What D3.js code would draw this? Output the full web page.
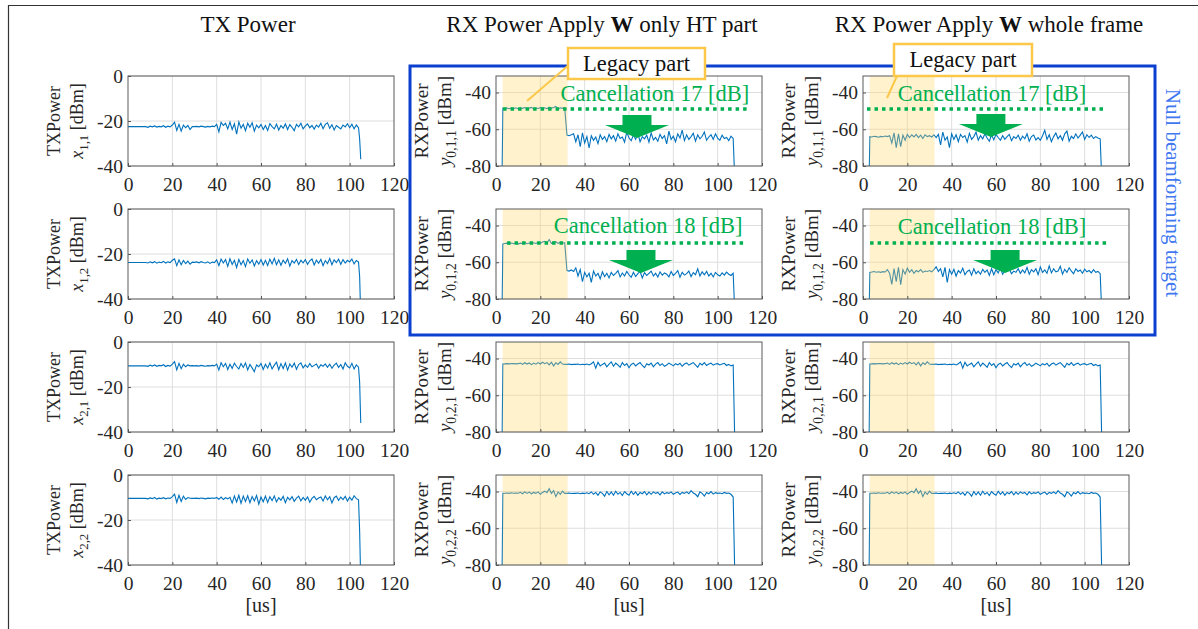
<!DOCTYPE html>
<html>
<head>
<meta charset="utf-8">
<script src="https://cdn.jsdelivr.net/npm/d3@7"></script>
<style>
  body { margin: 0; background: #fff; }
  svg { display: block; }
  text { font-family: "Liberation Serif", "Times New Roman", serif; }
</style>
</head>
<body>
<svg id="chart" width="1198" height="629"></svg>
<script>
/* ---------------------------------------------------------------*/
// sample times [us]
var txTimes = d3.range(0, 105).concat([104.5, 105]);
var rxTimes = [2.7, 3.1].concat(d3.range(4, 108)).concat([107.8]);

// TX power [dBm]
var tx11 = [-22.5,-22.5,-22.5,-22.5,-22.5,-22.5,-22.5,-22.5,-22.5,
  -22.8,-22.3,-22.6,-22.2,-22.7,-22.4,-22.6,-22.1,-22.8,-22.3,-22.6,
  -21.8,-20.5,-24.2,-21.5,-24.5,-21.8,-23.0,-22.0,-23.8,-22.5,
  -22.5,-22.4,-22.6,-22.3,-22.5,-22.7,-22.4,-22.6,-22.3,-22.5,
  -21.5,-24.8,-20.6,-22.0,-21.0,-23.5,-20.5,-23.8,-21.2,-25.8,
  -20.4,-23.2,-21.5,-24.3,-21.0,-22.8,-20.8,-24.5,-21.8,-23.0,
  -21.5,-23.8,-22.0,-24.2,-21.2,-22.5,-23.5,-21.4,-24.0,-22.0,
  -23.2,-21.3,-23.8,-21.6,-22.8,-24.3,-21.5,-22.6,-21.0,-23.5,
  -22.2,-21.3,-23.0,-22.0,-23.6,-21.8,-22.7,-21.0,-23.4,-21.5,
  -20.8,-23.2,-21.6,-24.0,-22.0,-22.8,-23.5,-21.8,-22.6,-21.2,
  -23.0,-21.4,-23.5,-21.8,-23.0, -28, -37];
var tx12 = [-23.8,-23.8,-23.8,-23.8,-23.8,-23.8,-23.8,-23.8,-23.8,
  -24.0,-23.5,-23.9,-23.4,-24.1,-23.6,-23.9,-23.3,-24.0,-23.5,-23.8,
  -22.8,-22.2,-25.2,-22.6,-24.8,-22.9,-24.3,-23.2,-24.5,-23.6,
  -23.7,-23.5,-23.9,-23.4,-23.8,-24.0,-23.5,-24.2,-23.6,-23.8,
  -22.6,-25.2,-22.3,-24.0,-22.5,-25.5,-22.1,-24.6,-22.8,-26.0,
  -22.4,-24.8,-22.9,-25.6,-22.2,-24.1,-22.6,-25.3,-23.0,-24.5,
  -22.5,-24.9,-22.8,-25.1,-22.3,-24.4,-21.9,-24.8,-22.6,-25.0,
  -22.7,-24.2,-22.1,-25.4,-22.9,-24.0,-22.4,-24.7,-22.8,-23.9,
  -22.5,-24.6,-23.0,-22.2,-24.9,-22.7,-24.1,-22.4,-25.2,-22.9,
  -24.3,-22.0,-24.8,-22.6,-23.8,-22.3,-24.6,-22.5,-24.0,-22.8,
  -23.5,-22.2,-24.4,-22.9,-23.6, -30, -48];
var tx21 = [-10.6,-10.6,-10.6,-10.6,-10.6,-10.6,-10.6,-10.6,-10.6,
  -10.8,-10.3,-10.7,-10.2,-10.8,-10.4,-10.6,-10.1,-10.9,-10.4,-10.7,
  -9.8,-8.7,-12.4,-9.5,-11.9,-9.9,-11.0,-10.2,-10.6,-10.5,
  -10.6,-10.5,-10.7,-10.4,-10.6,-10.8,-10.5,-10.6,-10.4,-10.6,
  -9.8,-12.5,-9.2,-11.0,-9.5,-12.2,-9.9,-11.8,-9.4,-10.9,
  -12.0,-9.6,-11.3,-9.3,-12.4,-10.0,-11.5,-13.2,-10.2,-11.0,
  -9.5,-12.2,-9.9,-11.6,-9.2,-12.0,-10.3,-9.0,-12.3,-9.6,
  -11.8,-9.3,-12.5,-9.8,-11.2,-9.4,-12.1,-10.0,-9.3,-11.5,
  -10.2,-11.3,-9.6,-11.0,-10.4,-9.8,-11.6,-10.1,-10.8,-9.7,
  -11.2,-9.9,-11.7,-10.3,-9.4,-11.3,-10.0,-12.0,-9.2,-10.8,
  -11.5,-9.5,-12.0,-10.2,-11.2, -18, -36];
var tx22 = [-10.4,-10.4,-10.4,-10.4,-10.4,-10.4,-10.4,-10.4,-10.4,
  -10.6,-10.2,-10.5,-10.0,-10.7,-10.3,-10.5,-10.1,-10.6,-10.2,-10.4,
  -9.6,-8.5,-12.2,-9.0,-11.8,-9.4,-10.9,-10.0,-10.3,-10.4,
  -10.4,-10.3,-10.5,-10.2,-10.4,-10.6,-10.3,-10.4,-10.2,-10.4,
  -10.0,-10.8,-9.8,-10.9,-10.1,-10.6,-9.9,-12.5,-9.3,-12.0,
  -9.0,-12.6,-9.4,-11.8,-9.2,-12.3,-9.6,-11.5,-9.1,-13.0,
  -9.8,-11.9,-9.4,-12.2,-9.7,-11.4,-9.3,-12.0,-10.1,-11.2,
  -9.5,-12.3,-9.9,-11.0,-9.6,-11.7,-10.3,-9.4,-11.5,-10.0,
  -11.2,-9.7,-12.1,-10.4,-9.5,-11.0,-10.2,-9.8,-11.6,-9.3,
  -11.0,-9.6,-12.4,-10.1,-9.4,-11.3,-9.8,-10.9,-9.5,-11.6,
  -9.9,-11.2,-9.2,-10.5,-11.0, -25, -48];

// RX power, W applied only to HT part [dBm]
var rxHt011 = [-90, -48.5,
  -48.6,-48.4,-48.8,-48.5,-48.7,-48.3,-48.9,-48.4,-48.6,
  -48.2,-48.8,-48.5,-48.1,-48.9,-48.4,-48.7,-48.2,-48.6,-48.3,
  -48.8,-47.9,-48.5,-48.2,-47.6,-48.9,-48.3,-48.6,-48.4,
  -63.2,-63.5,-63.0,-62.5,-66.8,-63.0,-69.5,-62.0,-67.5,-64.0,
  -70.2,-63.5,-66.0,-64.2,-67.8,-63.0,-65.5,-64.0,-66.8,-62.8,
  -65.2,-63.5,-66.5,-62.5,-65.0,-64.2,-67.0,-61.5,-64.8,-66.2,
  -63.0,-65.5,-62.2,-66.8,-64.0,-65.2,-63.2,-67.0,-62.0,-65.8,
  -64.5,-66.5,-62.8,-65.0,-63.5,-68.0,-61.0,-65.5,-63.8,-66.8,
  -62.5,-64.8,-60.5,-66.2,-63.0,-65.5,-64.0,-62.2,-66.5,-63.0,
  -65.2,-63.8,-61.5,-66.0,-64.2,-63.0,-65.5,-62.5,-64.8,-66.0,
  -63.2,-65.0,-64.5,-66.2,-63.8,-65.0, -90];
var rxHt012 = [-90, -50.0,
  -49.8,-49.6,-50.0,-49.5,-49.9,-49.4,-50.1,-49.6,-49.8,
  -49.3,-49.9,-49.5,-50.0,-49.4,-49.8,-49.2,-49.7,-49.0,-48.6,
  -49.5,-47.6,-49.8,-49.0,-48.8,-49.7,-49.2,-49.5,-49.4,
  -64.5,-64.8,-64.2,-65.0,-63.0,-67.5,-64.0,-70.5,-65.5,-68.0,
  -66.0,-71.0,-64.8,-67.5,-66.0,-69.0,-65.2,-67.8,-66.0,-68.5,
  -65.5,-67.2,-66.0,-64.5,-68.0,-65.8,-67.5,-65.0,-66.8,-68.2,
  -65.5,-67.8,-66.2,-65.0,-68.5,-65.6,-67.2,-66.0,-64.8,-67.5,
  -66.0,-68.0,-65.2,-67.0,-65.8,-66.5,-68.0,-65.0,-67.2,-66.0,
  -64.5,-68.2,-65.5,-67.0,-66.2,-64.8,-67.8,-65.6,-66.8,-63.5,
  -67.5,-65.2,-66.8,-65.0,-67.5,-66.0,-68.0,-65.5,-66.8,-67.5,
  -65.8,-67.0,-65.4,-66.5,-67.2,-66.0, -90];

// RX power, W applied to whole frame [dBm]
var rxAll011 = [-90, -64.0,
  -64.2,-63.8,-64.0,-64.3,-63.9,-64.1,-63.7,-64.0,-63.5,
  -67.5,-62.0,-70.0,-62.5,-69.5,-63.2,-66.0,-62.8,-64.5,-63.0,
  -64.2,-62.8,-64.5,-63.2,-65.0,-63.0,-64.0,-63.5,-64.2,
  -63.0,-64.5,-62.8,-68.5,-61.5,-66.0,-64.2,-70.0,-62.5,-65.5,
  -63.0,-66.8,-62.8,-64.5,-63.5,-67.0,-62.2,-65.5,-64.0,-61.5,
  -66.0,-63.5,-65.2,-62.5,-64.8,-66.5,-63.0,-65.8,-62.8,-64.5,
  -66.0,-63.5,-65.5,-64.0,-62.8,-66.2,-64.0,-65.0,-63.2,-66.0,
  -63.8,-65.2,-62.5,-66.5,-64.0,-63.2,-65.8,-64.5,-66.0,-63.5,
  -60.5,-65.5,-63.0,-66.8,-64.0,-62.0,-65.2,-63.5,-66.0,-62.5,
  -61.0,-66.5,-63.8,-65.0,-62.5,-64.8,-63.2,-61.5,-65.5,-63.0,
  -64.5,-63.2,-65.0,-64.0,-64.8,-65.2, -90];
var rxAll012 = [-90, -65.5,
  -65.3,-65.0,-65.4,-65.2,-65.5,-65.1,-65.3,-64.0,-66.0,
  -72.0,-63.5,-70.5,-62.8,-72.2,-64.0,-66.5,-63.2,-65.5,-64.0,
  -66.0,-64.5,-65.2,-64.0,-65.5,-64.8,-65.0,-64.5,-65.2,
  -64.0,-62.5,-65.0,-63.5,-68.0,-62.8,-71.0,-64.0,-66.5,-63.8,
  -67.5,-64.5,-65.8,-63.2,-66.8,-65.0,-64.2,-67.0,-63.5,-66.2,
  -64.8,-66.5,-63.8,-65.5,-64.2,-67.2,-63.5,-66.8,-64.0,-65.8,
  -63.2,-66.5,-64.5,-65.0,-63.8,-66.2,-64.8,-65.5,-63.5,-66.0,
  -64.2,-65.8,-62.8,-66.5,-64.0,-65.2,-63.5,-66.8,-62.5,-65.5,
  -64.2,-66.0,-62.0,-65.8,-63.5,-65.2,-64.8,-62.2,-66.5,-63.8,
  -65.5,-63.0,-64.8,-66.2,-63.5,-65.0,-64.2,-66.0,-63.8,-65.2,
  -64.5,-65.8,-64.0,-65.5,-65.0,-66.2, -90];

// RX power at user 2 (same in both cases) [dBm]
var rx021 = [-90, -43.0,
  -42.9,-42.8,-42.9,-42.7,-42.8,-42.9,-42.8,-42.5,-43.2,
  -42.3,-43.0,-42.4,-43.3,-42.5,-43.1,-42.2,-43.0,-42.0,-42.8,
  -42.2,-43.5,-42.0,-44.0,-42.3,-43.2,-41.8,-43.0,-43.2,
  -43.2,-43.0,-43.3,-43.1,-43.2,-43.0,-43.4,-43.1,-43.3,-43.0,
  -43.5,-42.8,-41.8,-45.2,-42.0,-44.0,-43.2,-42.5,-44.5,-43.0,
  -41.8,-44.2,-42.5,-43.5,-44.8,-42.2,-43.8,-42.8,-45.0,-43.2,
  -42.5,-44.0,-43.0,-42.2,-43.8,-45.0,-42.8,-43.5,-42.5,-44.5,
  -43.0,-42.2,-43.8,-42.8,-44.2,-43.5,-42.5,-43.2,-44.0,-42.8,
  -43.5,-42.6,-44.2,-43.0,-42.4,-43.6,-42.8,-42.2,-43.4,-44.8,
  -42.6,-43.5,-42.2,-43.8,-43.0,-42.5,-43.6,-43.0,-42.8,-43.5,
  -43.0,-42.6,-43.8,-43.2,-44.0,-43.5, -90];
var rx022 = [-90, -41.0,
  -40.9,-40.8,-41.0,-40.7,-40.9,-40.8,-40.9,-40.4,-41.2,
  -40.2,-41.0,-40.3,-41.2,-40.5,-41.0,-40.2,-41.5,-40.5,-39.8,
  -40.6,-38.5,-41.0,-39.5,-42.8,-40.2,-41.5,-39.8,-41.0,
  -41.0,-40.8,-41.1,-40.9,-41.0,-40.8,-41.2,-40.9,-41.1,-40.7,
  -41.2,-40.2,-41.5,-40.5,-42.0,-40.2,-41.0,-42.5,-40.0,-41.8,
  -40.2,-42.0,-39.8,-41.5,-40.5,-42.2,-40.0,-41.2,-42.0,-39.8,
  -41.5,-40.2,-42.0,-40.5,-41.2,-40.0,-41.8,-40.3,-41.5,-40.2,
  -41.0,-40.5,-41.8,-40.2,-41.3,-40.6,-41.0,-40.2,-41.5,-40.8,
  -40.3,-41.6,-40.5,-41.0,-40.2,-41.2,-39.5,-40.8,-41.5,-42.8,
  -40.2,-41.0,-42.5,-40.5,-41.2,-40.0,-41.4,-40.6,-41.0,-40.8,
  -41.2,-40.5,-41.0,-40.8,-41.5,-43.0, -90];

var xTicks = [0, 20, 40, 60, 80, 100, 120];
var txTicks = [0, -20, -40];
var rxTicks = [-40, -60, -80];
var legacySpan = [3, 32.3];
var cancelDb = [17, 18];
var cancelLevel = [-49.0, -49.5];
var colTitles = [["TX Power"], ["RX Power Apply ", "W", " only HT part"], ["RX Power Apply ", "W", " whole frame"]];

/* ---------------------------------------------------------------*/
var colLeft = [128, 496, 863], plotW = 266;
var rowTop = [76, 209, 342, 475], plotH = 90;
var titleX = [248, 602, 989];

var panels = [
  {col: 0, row: 0, t: txTimes, v: tx11, name: "TXPower", sym: "x", sub: "1,1"},
  {col: 0, row: 1, t: txTimes, v: tx12, name: "TXPower", sym: "x", sub: "1,2"},
  {col: 0, row: 2, t: txTimes, v: tx21, name: "TXPower", sym: "x", sub: "2,1"},
  {col: 0, row: 3, t: txTimes, v: tx22, name: "TXPower", sym: "x", sub: "2,2"},
  {col: 1, row: 0, t: rxTimes, v: rxHt011, name: "RXPower", sym: "y", sub: "0,1,1"},
  {col: 1, row: 1, t: rxTimes, v: rxHt012, name: "RXPower", sym: "y", sub: "0,1,2"},
  {col: 1, row: 2, t: rxTimes, v: rx021, name: "RXPower", sym: "y", sub: "0,2,1"},
  {col: 1, row: 3, t: rxTimes, v: rx022, name: "RXPower", sym: "y", sub: "0,2,2"},
  {col: 2, row: 0, t: rxTimes, v: rxAll011, name: "RXPower", sym: "y", sub: "0,1,1"},
  {col: 2, row: 1, t: rxTimes, v: rxAll012, name: "RXPower", sym: "y", sub: "0,1,2"},
  {col: 2, row: 2, t: rxTimes, v: rx021, name: "RXPower", sym: "y", sub: "0,2,1"},
  {col: 2, row: 3, t: rxTimes, v: rx022, name: "RXPower", sym: "y", sub: "0,2,2"}
];

// cancellation notes (data coords of the panel)
var notes = [
  {col: 1, row: 0, from: 3.2, to: 114.5, tx: 71.7, ty: -40.3, ax: 63.6, ay: -64.8},
  {col: 1, row: 1, from: 5.0, to: 113.2, tx: 68.6, ty: -39.6, ax: 65.4, ay: -65.8},
  {col: 2, row: 0, from: 1.8, to: 110.0, tx: 58.2, ty: -40.3, ax: 57.7, ay: -64.2},
  {col: 2, row: 1, from: 3.2, to: 111.0, tx: 58.2, ty: -40.3, ax: 64.1, ay: -65.8}
];

var svg = d3.select("#chart");
var green = "#00b050";

// outer frame
svg.append("path").attr("d", "M8.5,629V5.5H1198").attr("fill", "none").attr("stroke", "#333").attr("stroke-width", 1.2);

// column titles
colTitles.forEach(function(parts, i) {
  var t = svg.append("text").attr("x", titleX[i]).attr("y", 32).attr("text-anchor", "middle")
    .attr("font-size", 23).attr("fill", "#111");
  parts.forEach(function(p, j) {
    t.append("tspan").text(p).attr("font-weight", j === 1 ? "bold" : null);
  });
});

function scalesFor(p) {
  var x = d3.scaleLinear().domain([0, 120]).range([colLeft[p.col], colLeft[p.col] + plotW]);
  var y = p.col === 0
    ? d3.scaleLinear().domain([-40, 0]).range([rowTop[p.row] + plotH, rowTop[p.row]])
    : d3.scaleLinear().domain([-80, -31]).range([rowTop[p.row] + plotH, rowTop[p.row]]);
  return {x: x, y: y};
}

panels.forEach(function(p, k) {
  var s = scalesFor(p), x = s.x, y = s.y;
  var yTicks = p.col === 0 ? txTicks : rxTicks;
  var g = svg.append("g");
  var x0 = x.range()[0], x1 = x.range()[1], yB = y.range()[0], yT = y.range()[1];

  g.append("clipPath").attr("id", "clip" + k).append("rect")
    .attr("x", x0).attr("y", yT).attr("width", x1 - x0).attr("height", yB - yT);

  // grid
  g.selectAll(".gx").data(xTicks.slice(1, -1)).enter().append("line")
    .attr("x1", d => x(d)).attr("x2", d => x(d)).attr("y1", yT).attr("y2", yB)
    .attr("stroke", "#dedede").attr("stroke-width", 1);
  g.selectAll(".gy").data(yTicks).enter().append("line")
    .attr("x1", x0).attr("x2", x1).attr("y1", d => y(d)).attr("y2", d => y(d))
    .attr("stroke", "#dedede").attr("stroke-width", 1);

  // series
  var pts = d3.zip(p.t, p.v);
  g.append("path").datum(pts)
    .attr("clip-path", "url(#clip" + k + ")")
    .attr("fill", "none").attr("stroke", "#0072bd").attr("stroke-width", 1.1)
    .attr("d", d3.line().x(d => x(d[0])).y(d => y(d[1])));

  // legacy shading over the trace
  if (p.col > 0) {
    g.append("rect").attr("x", x(legacySpan[0])).attr("y", yT)
      .attr("width", x(legacySpan[1]) - x(legacySpan[0])).attr("height", yB - yT)
      .attr("fill", "#ffd966").attr("fill-opacity", 0.33);
  }

  // axes
  var ax = g.append("g").attr("transform", "translate(0," + yB + ")")
    .call(d3.axisBottom(x).tickValues(xTicks).tickSize(-3).tickPadding(11));
  var ay = g.append("g").attr("transform", "translate(" + x0 + ",0)")
    .call(d3.axisLeft(y).tickValues(yTicks).tickSize(-3).tickPadding(5).tickFormat(d3.format("d")));
  [ax, ay].forEach(function(a) {
    a.select(".domain").remove();
    a.selectAll(".tick line").attr("stroke", "#555");
    a.selectAll("text").attr("font-size", 19.5).attr("fill", "#262626")
      .attr("font-family", "'Liberation Serif','Times New Roman',serif");
  });
  ay.selectAll("text").text(d => d === 0 ? "0" : "-" + Math.abs(d));

  g.append("rect").attr("x", x0).attr("y", yT).attr("width", x1 - x0).attr("height", yB - yT)
    .attr("fill", "none").attr("stroke", "#5a5a5a").attr("stroke-width", 1);

  // y label (two lines)
  var fs = p.col === 0 ? 18 : 19;
  var cy = (yT + yB) / 2;
  svg.append("text").attr("transform", "translate(" + (x0 - 68) + "," + cy + ") rotate(-90)")
    .attr("text-anchor", "middle").attr("font-size", fs).attr("fill", "#262626").text(p.name);
  var l2 = svg.append("text").attr("transform", "translate(" + (x0 - 45) + "," + cy + ") rotate(-90)")
    .attr("text-anchor", "middle").attr("font-size", fs).attr("fill", "#262626");
  l2.append("tspan").attr("font-style", "italic").text(p.sym);
  l2.append("tspan").attr("dy", 5).attr("font-size", fs * 0.72).text(p.sub);
  l2.append("tspan").attr("dy", -5).text(" [dBm]");

  if (p.row === 3) {
    svg.append("text").attr("x", (x0 + x1) / 2).attr("y", yB + 47).attr("text-anchor", "middle")
      .attr("font-size", 20).attr("fill", "#262626").text("[us]");
  }
  p.scales = s;
});

// null beamforming target frame
svg.append("rect").attr("x", 410).attr("y", 66).attr("width", 745).attr("height", 269)
  .attr("fill", "none").attr("stroke", "#0a3fd0").attr("stroke-width", 3);
svg.append("text").attr("transform", "translate(1166,193) rotate(90)")
  .attr("text-anchor", "middle").attr("font-size", 21).attr("fill", "#3f78f0")
  .text("Null beamforming target");

// cancellation notes
notes.forEach(function(n) {
  var p = panels.find(q => q.col === n.col && q.row === n.row);
  var x = p.scales.x, y = p.scales.y;
  var lvl = cancelLevel[n.row];
  svg.append("line").attr("x1", x(n.from)).attr("x2", x(n.to)).attr("y1", y(lvl)).attr("y2", y(lvl))
    .attr("stroke", green).attr("stroke-width", 3.5).attr("stroke-dasharray", "3.5 4");
  svg.append("text").attr("x", x(n.tx)).attr("y", y(n.ty)).attr("dy", "0.35em")
    .attr("text-anchor", "middle").attr("font-size", 22.5).attr("fill", green)
    .text("Cancellation " + cancelDb[n.row] + " [dB]");
  var tx = x(n.ax), ty = y(n.ay);
  var shape = [[-14.5, -23], [14.5, -23], [14.5, -13], [32, -13], [0, 0], [-32, -13], [-14.5, -13]];
  svg.append("polygon").attr("points", shape.map(d => (tx + d[0]) + "," + (ty + d[1])).join(" "))
    .attr("fill", green);
});

// "Legacy part" callouts
var callouts = [
  {box: [568, 48, 137, 31], line: [[570, 64], [527, 101]]},
  {box: [894, 44, 138, 32], line: [[897, 76], [887, 98]]}
];
callouts.forEach(function(c) {
  svg.append("line").attr("x1", c.line[0][0]).attr("y1", c.line[0][1])
    .attr("x2", c.line[1][0]).attr("y2", c.line[1][1])
    .attr("stroke", "#fbc84a").attr("stroke-width", 2);
  svg.append("rect").attr("x", c.box[0]).attr("y", c.box[1]).attr("width", c.box[2]).attr("height", c.box[3])
    .attr("fill", "#fff").attr("stroke", "#fbc84a").attr("stroke-width", 2.5);
  svg.append("text").attr("x", c.box[0] + c.box[2] / 2).attr("y", c.box[1] + c.box[3] / 2).attr("dy", "0.33em")
    .attr("text-anchor", "middle").attr("font-size", 22.5).attr("fill", "#111").text("Legacy part");
});
</script>
</body>
</html>
